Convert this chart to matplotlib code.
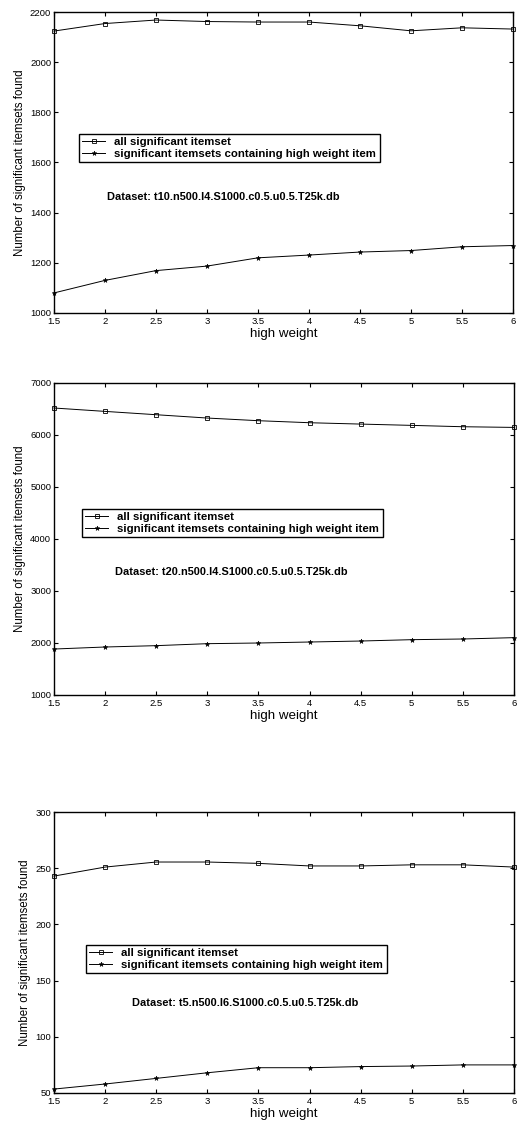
"""
Significant itemsets found vs. high weight, three datasets
"""
import matplotlib
matplotlib.use('Agg')
import matplotlib.pyplot as plt

plt.rcParams['font.family'] = ['Liberation Sans', 'DejaVu Sans']

W, H = 531, 1122

high_weight = [1.5, 2, 2.5, 3, 3.5, 4, 4.5, 5, 5.5, 6]

# t10.n500.l4
all_t10 = [2124, 2154, 2168, 2162, 2160, 2160, 2145, 2125, 2137, 2132]
hw_t10 = [1080, 1130, 1169, 1187, 1220, 1231, 1243, 1249, 1264, 1269]
# t20.n500.l4
all_t20 = [6519, 6454, 6390, 6326, 6275, 6236, 6210, 6185, 6159, 6146]
hw_t20 = [1884, 1923, 1949, 1987, 2000, 2019, 2038, 2064, 2077, 2103]
# t5.n500.l6
all_t5 = [243, 251, 255.5, 255.5, 254.3, 252, 252, 253, 253, 251]
hw_t5 = [53.5, 58, 63, 68, 72.5, 72.5, 73.5, 74, 75, 75]

datasets = ['Dataset: t10.n500.I4.S1000.c0.5.u0.5.T25k.db',
            'Dataset: t20.n500.I4.S1000.c0.5.u0.5.T25k.db',
            'Dataset: t5.n500.I6.S1000.c0.5.u0.5.T25k.db']
ylims = [(1000, 2200), (1000, 7000), (50, 300)]
yticks = [range(1000, 2201, 200), range(1000, 7001, 1000), range(50, 301, 50)]

legend_labels = ['all significant itemset',
                 'significant itemsets containing high weight item']

# pixel boxes: left, top, right, bottom
boxes = [(54, 12, 513, 313), (54, 383, 514, 695), (54, 812, 514, 1093)]
legend_pos = [(79, 134), (82, 509), (86, 945)]
text_pos = [(107, 197), (115, 572), (132, 1003)]

series = [(all_t10, hw_t10), (all_t20, hw_t20), (all_t5, hw_t5)]

fig = plt.figure(figsize=(W / 100, H / 100), dpi=100)

for i in range(3):
    l, t, r, b = boxes[i]
    ax = fig.add_axes([l / W, 1 - b / H, (r - l) / W, (b - t) / H])
    top, bot = series[i]
    ax.plot(high_weight, top, 'k-', marker='s', markersize=3, markerfacecolor='none',
            markeredgewidth=0.6, linewidth=0.7, label=legend_labels[0], clip_on=False)
    ax.plot(high_weight, bot, 'k-', marker='*', markersize=3.5,
            markeredgewidth=0.4, linewidth=0.7, label=legend_labels[1], clip_on=False)
    ax.set_xlim(1.5, 6)
    ax.set_ylim(*ylims[i])
    ax.set_xticks(high_weight)
    ax.set_xticklabels(['1.5', '2', '2.5', '3', '3.5', '4', '4.5', '5', '5.5', '6'])
    ax.set_yticks(list(yticks[i]))
    ax.tick_params(direction='in', top=True, right=True, length=3, width=0.8,
                   labelsize=6.8)
    ax.tick_params(axis='x', pad=3)
    ax.tick_params(axis='y', pad=2)
    for s in ax.spines.values():
        s.set_linewidth(1.0)
    ax.set_xlabel('high weight', fontsize=9.6, labelpad=1.5)
    ax.set_ylabel('Number of significant itemsets found', fontsize=8.3, labelpad=3)
    lx, ly = legend_pos[i]
    leg = ax.legend(loc='upper left', bbox_to_anchor=(lx / W, 1 - ly / H),
                    bbox_transform=fig.transFigure, fancybox=False,
                    edgecolor='black', framealpha=1, borderpad=0.3,
                    handlelength=2.0, handletextpad=0.8, labelspacing=0.1,
                    borderaxespad=0, prop={'size': 8.2, 'weight': 'bold'})
    leg.get_frame().set_linewidth(1.0)
    tx, ty = text_pos[i]
    fig.text(tx / W, 1 - ty / H, datasets[i], fontsize=7.9, fontweight='bold',
             va='center', ha='left')

fig.savefig('out.png', dpi=100)
